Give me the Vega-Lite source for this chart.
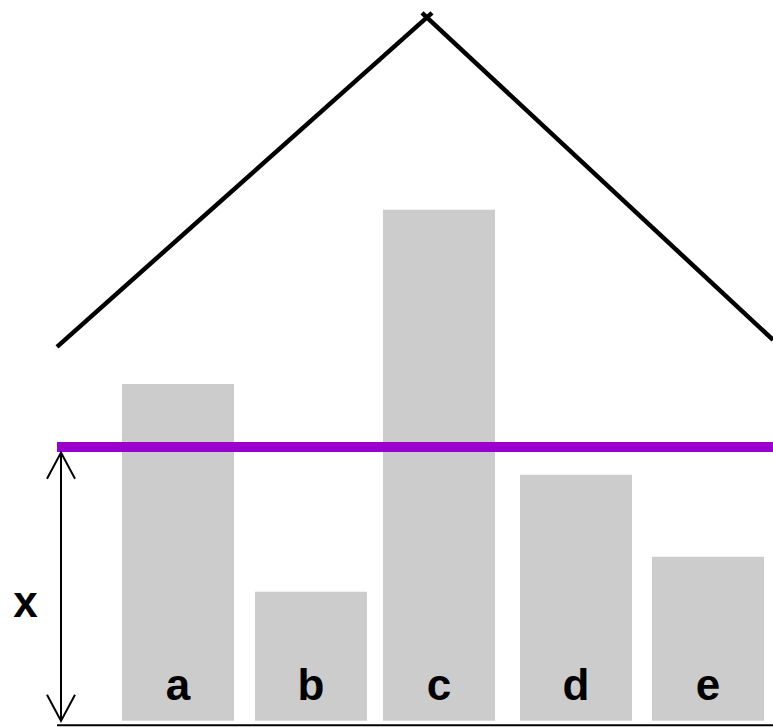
{
  "$schema": "https://vega.github.io/schema/vega-lite/v6.json",
  "width": 773,
  "height": 727,
  "autosize": {"type": "none"},
  "padding": 0,
  "background": "white",
  "config": {"view": {"stroke": null}},
  "datasets": {
    "bars": [
      {"label": "a", "x0": 23.88, "x1": 45.80, "mid": 34.84, "value": 65.96},
      {"label": "b", "x0": 49.91, "x1": 71.83, "mid": 60.87, "value": 25.25},
      {"label": "c", "x0": 74.96, "x1": 96.89, "mid": 85.93, "value": 100.02},
      {"label": "d", "x0": 101.78, "x1": 123.70, "mid": 112.74, "value": 48.15},
      {"label": "e", "x0": 127.62, "x1": 149.54, "mid": 138.58, "value": 32.10}
    ],
    "segments": [
      {"part": "roof", "x0": 11.16, "y0": 73.20, "x1": 84.56, "y1": 138.58},
      {"part": "roof", "x0": 82.60, "y0": 138.58, "x1": 151.3, "y1": 74.57},
      {"part": "baseline", "x0": 11.16, "y0": -0.88, "x1": 151.3, "y1": -0.88},
      {"part": "threshold", "x0": 11.16, "y0": 53.63, "x1": 151.3, "y1": 53.63},
      {"part": "arrow", "x0": 11.94, "y0": 0.0, "x1": 11.94, "y1": 52.5}
    ],
    "heads": [
      {"end": "top", "x": 11.94, "y": 52.5},
      {"end": "bottom", "x": 11.94, "y": 0.0}
    ],
    "xlabel": [
      {"text": "x", "x": 4.99, "y": 20.36}
    ]
  },
  "layer": [
    {
      "data": {"name": "bars"},
      "mark": {"type": "rect", "color": "#cccccc"},
      "encoding": {
        "x": {"field": "x0", "type": "quantitative", "scale": {"domain": [0, 151.3], "nice": false, "zero": false}, "axis": null},
        "x2": {"field": "x1"},
        "y": {"field": "value", "type": "quantitative", "scale": {"domain": [-1.2, 141.1], "nice": false, "zero": false}, "axis": null},
        "y2": {"datum": 0}
      }
    },
    {
      "data": {"name": "bars"},
      "mark": {"type": "text", "font": "Liberation Sans", "fontWeight": "bold", "fontSize": 44, "align": "center", "baseline": "alphabetic", "color": "black"},
      "encoding": {
        "x": {"field": "mid", "type": "quantitative", "scale": {"domain": [0, 151.3], "nice": false, "zero": false}, "axis": null},
        "y": {"datum": 4.11, "type": "quantitative", "scale": {"domain": [-1.2, 141.1], "nice": false, "zero": false}, "axis": null},
        "text": {"field": "label"}
      }
    },
    {
      "data": {"name": "segments"},
      "transform": [{"filter": "datum.part === 'threshold'"}],
      "mark": {"type": "rule", "color": "#9900cc", "strokeWidth": 10},
      "encoding": {
        "x": {"field": "x0", "type": "quantitative", "scale": {"domain": [0, 151.3], "nice": false, "zero": false}, "axis": null},
        "x2": {"field": "x1"},
        "y": {"field": "y0", "type": "quantitative", "scale": {"domain": [-1.2, 141.1], "nice": false, "zero": false}, "axis": null},
        "y2": {"field": "y1"}
      }
    },
    {
      "data": {"name": "segments"},
      "transform": [{"filter": "datum.part === 'roof'"}],
      "mark": {"type": "rule", "color": "black", "strokeWidth": 4.5},
      "encoding": {
        "x": {"field": "x0", "type": "quantitative", "scale": {"domain": [0, 151.3], "nice": false, "zero": false}, "axis": null},
        "x2": {"field": "x1"},
        "y": {"field": "y0", "type": "quantitative", "scale": {"domain": [-1.2, 141.1], "nice": false, "zero": false}, "axis": null},
        "y2": {"field": "y1"}
      }
    },
    {
      "data": {"name": "segments"},
      "transform": [{"filter": "datum.part === 'baseline' || datum.part === 'arrow'"}],
      "mark": {"type": "rule", "color": "black", "strokeWidth": 2},
      "encoding": {
        "x": {"field": "x0", "type": "quantitative", "scale": {"domain": [0, 151.3], "nice": false, "zero": false}, "axis": null},
        "x2": {"field": "x1"},
        "y": {"field": "y0", "type": "quantitative", "scale": {"domain": [-1.2, 141.1], "nice": false, "zero": false}, "axis": null},
        "y2": {"field": "y1"}
      }
    },
    {
      "data": {"name": "heads"},
      "transform": [{"filter": "datum.end === 'top'"}],
      "mark": {"type": "point", "shape": "M-1,1.86L0,0L1,1.86", "size": 784, "filled": false, "color": "black", "strokeWidth": 2, "opacity": 1},
      "encoding": {
        "x": {"field": "x", "type": "quantitative", "scale": {"domain": [0, 151.3], "nice": false, "zero": false}, "axis": null},
        "y": {"field": "y", "type": "quantitative", "scale": {"domain": [-1.2, 141.1], "nice": false, "zero": false}, "axis": null}
      }
    },
    {
      "data": {"name": "heads"},
      "transform": [{"filter": "datum.end === 'bottom'"}],
      "mark": {"type": "point", "shape": "M-1,-1.86L0,0L1,-1.86", "size": 784, "filled": false, "color": "black", "strokeWidth": 2, "opacity": 1},
      "encoding": {
        "x": {"field": "x", "type": "quantitative", "scale": {"domain": [0, 151.3], "nice": false, "zero": false}, "axis": null},
        "y": {"field": "y", "type": "quantitative", "scale": {"domain": [-1.2, 141.1], "nice": false, "zero": false}, "axis": null}
      }
    },
    {
      "data": {"name": "xlabel"},
      "mark": {"type": "text", "font": "Liberation Sans", "fontWeight": "bold", "fontSize": 44, "align": "center", "baseline": "alphabetic", "color": "black"},
      "encoding": {
        "x": {"field": "x", "type": "quantitative", "scale": {"domain": [0, 151.3], "nice": false, "zero": false}, "axis": null},
        "y": {"field": "y", "type": "quantitative", "scale": {"domain": [-1.2, 141.1], "nice": false, "zero": false}, "axis": null},
        "text": {"field": "text"}
      }
    }
  ]
}
